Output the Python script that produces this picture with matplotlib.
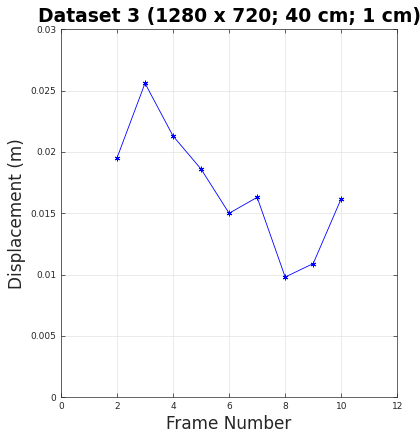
import matplotlib
matplotlib.use("Agg")
import matplotlib.pyplot as plt
import numpy as np

frames = [2, 3, 4, 5, 6, 7, 8, 9, 10]
displacement = [0.0195, 0.0256, 0.0213, 0.0186, 0.0150, 0.0163, 0.0098, 0.0109, 0.0162]

fig = plt.figure(figsize=(4.2, 4.34), dpi=100)
ax = fig.add_axes([0.145, 0.0846, 0.801, 0.848])

ax.plot(frames, displacement, color='#0000ff', linewidth=0.6,
        marker=(6, 2, 0), markersize=4, markeredgewidth=0.7)

ax.set_xlim(0, 12)
ax.set_ylim(0, 0.03)
ax.set_xticks(np.arange(0, 13, 2))
ax.set_yticks([0, 0.005, 0.01, 0.015, 0.02, 0.025, 0.03])
ax.set_yticklabels(['0', '0.005', '0.01', '0.015', '0.02', '0.025', '0.03'])

ax.grid(True, color='#e6e6e6', linewidth=0.6)
ax.set_axisbelow(True)
ax.tick_params(direction='in', top=True, right=True, length=3, width=0.5,
               labelsize=6.5, colors='#262626', labelcolor='#262626')
for s in ax.spines.values():
    s.set_color('#262626')
    s.set_linewidth(0.5)

ax.set_xlabel("Frame Number", fontsize=12.2, color='#262626', labelpad=3)
ax.set_ylabel("Displacement (m)", fontsize=12.2, color='#262626', labelpad=3)
ax.set_title("Dataset 3 (1280 x 720; 40 cm; 1 cm)", fontsize=13.5, fontweight='bold', pad=5)

fig.savefig("out.png", dpi=100)
